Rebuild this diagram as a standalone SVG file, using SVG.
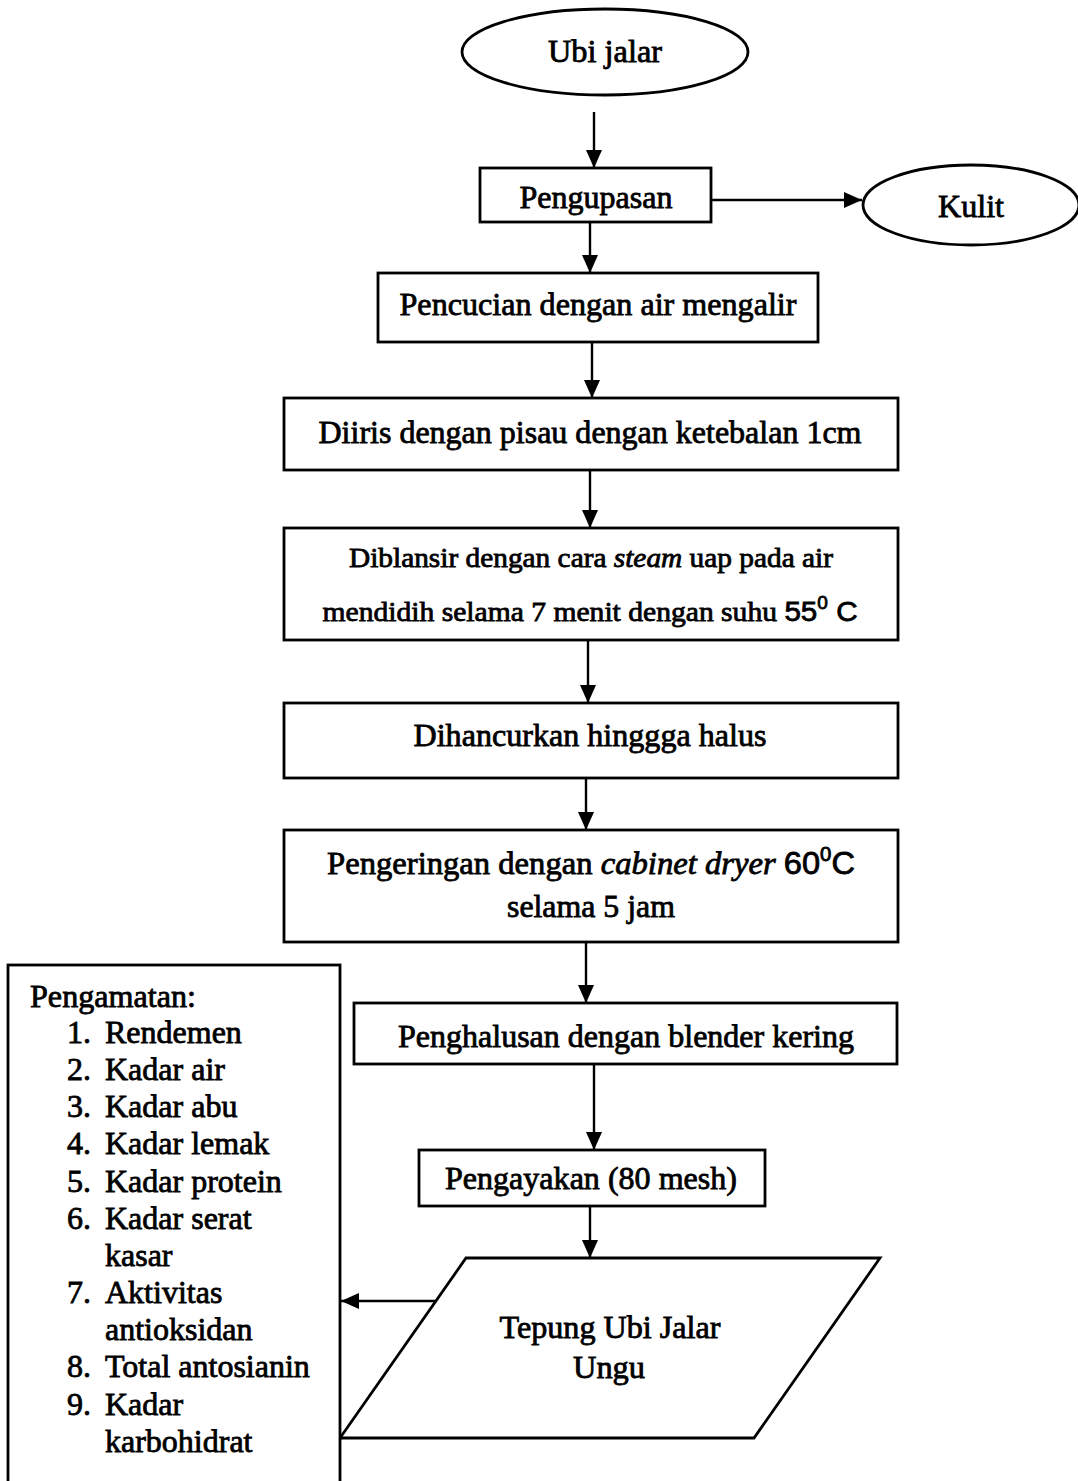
<svg xmlns="http://www.w3.org/2000/svg" width="1078" height="1481" viewBox="0 0 1078 1481">
<style>
.b{fill:#fff;stroke:#000;stroke-width:2.8}
.c{fill:none;stroke:#000;stroke-width:2.4}
text{font-family:"Liberation Serif","Times New Roman",serif;font-size:32px;fill:#000;stroke:#000;stroke-width:0.8}
.m{text-anchor:middle}
.s{font-size:28px}
.a{font-family:"Liberation Sans",Arial,sans-serif}
</style>
<defs>
<marker id="ah" markerUnits="userSpaceOnUse" markerWidth="18" markerHeight="16" refX="18" refY="8" orient="auto">
<path d="M0,0 L18,8 L0,16 Z" fill="#000"/>
</marker>
</defs>
<rect width="1078" height="1481" fill="#fff"/>
<g id="connectors">
<line class="c" x1="594" y1="112" x2="594" y2="168" marker-end="url(#ah)"/>
<line class="c" x1="711" y1="200" x2="862" y2="200" marker-end="url(#ah)"/>
<line class="c" x1="590" y1="222" x2="590" y2="273" marker-end="url(#ah)"/>
<line class="c" x1="592" y1="342" x2="592" y2="398" marker-end="url(#ah)"/>
<line class="c" x1="590" y1="470" x2="590" y2="528" marker-end="url(#ah)"/>
<line class="c" x1="588" y1="640" x2="588" y2="703" marker-end="url(#ah)"/>
<line class="c" x1="586" y1="778" x2="586" y2="830" marker-end="url(#ah)"/>
<line class="c" x1="586" y1="942" x2="586" y2="1003" marker-end="url(#ah)"/>
<line class="c" x1="594" y1="1064" x2="594" y2="1150" marker-end="url(#ah)"/>
<line class="c" x1="590" y1="1206" x2="590" y2="1258" marker-end="url(#ah)"/>
<line class="c" x1="438" y1="1301" x2="341" y2="1301" marker-end="url(#ah)"/>
</g>
<g id="ubi-jalar">
<ellipse class="b" cx="605" cy="52" rx="143" ry="43"/>
<text class="m" x="605" y="62" textLength="114" lengthAdjust="spacingAndGlyphs">Ubi jalar</text>
</g>
<g id="pengupasan">
<rect class="b" x="480" y="168" width="231" height="54"/>
<text class="m" x="596" y="208" textLength="153" lengthAdjust="spacingAndGlyphs">Pengupasan</text>
</g>
<g id="kulit">
<ellipse class="b" cx="971" cy="205" rx="108" ry="40"/>
<text class="m" x="971" y="217" textLength="66" lengthAdjust="spacingAndGlyphs">Kulit</text>
</g>
<g id="pencucian">
<rect class="b" x="378" y="273" width="440" height="69"/>
<text class="m" x="598" y="315" textLength="397" lengthAdjust="spacingAndGlyphs">Pencucian dengan air mengalir</text>
</g>
<g id="diiris">
<rect class="b" x="284" y="398" width="614" height="72"/>
<text class="m" x="590" y="443" textLength="543" lengthAdjust="spacingAndGlyphs">Diiris dengan pisau dengan ketebalan 1cm</text>
</g>
<g id="diblansir">
<rect class="b" x="284" y="528" width="614" height="112"/>
<text class="m s" x="591" y="567" textLength="484" lengthAdjust="spacingAndGlyphs">Diblansir dengan cara <tspan font-style="italic">steam</tspan> uap pada air</text>
<text class="m s" x="590" y="621" textLength="535" lengthAdjust="spacingAndGlyphs">mendidih selama 7 menit dengan suhu <tspan class="a">55</tspan><tspan class="a" font-size="18" dy="-12">0</tspan><tspan class="a" dy="12"> C</tspan></text>
</g>
<g id="dihancurkan">
<rect class="b" x="284" y="703" width="614" height="75"/>
<text class="m" x="590" y="746" textLength="353" lengthAdjust="spacingAndGlyphs">Dihancurkan hinggga halus</text>
</g>
<g id="pengeringan">
<rect class="b" x="284" y="830" width="614" height="112"/>
<text class="m" x="591" y="874" textLength="528" lengthAdjust="spacingAndGlyphs">Pengeringan dengan <tspan font-style="italic">cabinet dryer</tspan>  <tspan class="a">60</tspan><tspan class="a" font-size="20" dy="-13">0</tspan><tspan class="a" dy="13">C</tspan></text>
<text class="m" x="591" y="917" textLength="168" lengthAdjust="spacingAndGlyphs">selama 5 jam</text>
</g>
<g id="penghalusan">
<rect class="b" x="354" y="1003" width="543" height="61"/>
<text class="m" x="626" y="1047" textLength="456" lengthAdjust="spacingAndGlyphs">Penghalusan dengan blender kering</text>
</g>
<g id="pengayakan">
<rect class="b" x="419" y="1150" width="346" height="56"/>
<text class="m" x="591" y="1189" textLength="292" lengthAdjust="spacingAndGlyphs">Pengayakan (80 mesh)</text>
</g>
<g id="tepung">
<polygon class="b" points="466,1258 880,1258 754,1438 340,1438"/>
<text class="m" x="610" y="1338" textLength="221" lengthAdjust="spacingAndGlyphs">Tepung Ubi Jalar</text>
<text class="m" x="609" y="1378" textLength="72" lengthAdjust="spacingAndGlyphs">Ungu</text>
</g>
<g id="pengamatan">
<rect class="b" x="8" y="965" width="332" height="530"/>
<text x="30" y="1007" textLength="166" lengthAdjust="spacingAndGlyphs">Pengamatan:</text>
<text x="67" y="1043">1.</text><text x="105" y="1043">Rendemen</text>
<text x="67" y="1080">2.</text><text x="105" y="1080">Kadar air</text>
<text x="67" y="1117">3.</text><text x="105" y="1117">Kadar abu</text>
<text x="67" y="1154">4.</text><text x="105" y="1154">Kadar lemak</text>
<text x="67" y="1192">5.</text><text x="105" y="1192">Kadar protein</text>
<text x="67" y="1229">6.</text><text x="105" y="1229">Kadar serat</text>
<text x="105" y="1266">kasar</text>
<text x="67" y="1303">7.</text><text x="105" y="1303">Aktivitas</text>
<text x="105" y="1340">antioksidan</text>
<text x="67" y="1377">8.</text><text x="105" y="1377">Total antosianin</text>
<text x="67" y="1415">9.</text><text x="105" y="1415">Kadar</text>
<text x="105" y="1452">karbohidrat</text>
</g>
</svg>
